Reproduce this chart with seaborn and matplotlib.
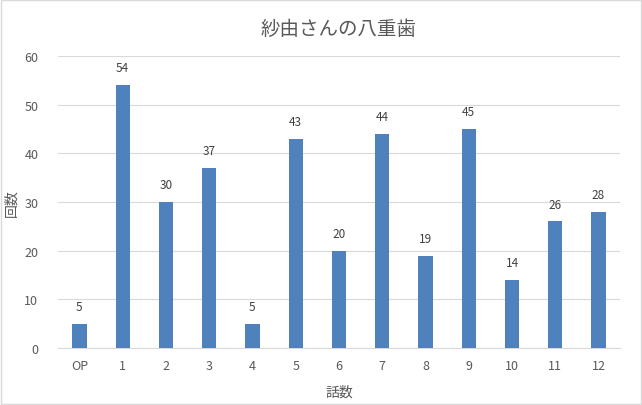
import matplotlib
matplotlib.use("Agg")
import matplotlib.pyplot as plt
import seaborn as sns
import pandas as pd

# --- data ---
episodes = ['OP', '1', '2', '3', '4', '5', '6', '7', '8', '9', '10', '11', '12']
counts = [5, 54, 30, 37, 5, 43, 20, 44, 19, 45, 14, 26, 28]
y_ticks = [0, 10, 20, 30, 40, 50, 60]

TITLE = '紗由さんの八重歯'
X_LABEL = '話数'
Y_LABEL = '回数'

BAR_COLOR = '#4F81BD'
TEXT_COLOR = '#595959'
GRID_COLOR = '#D9D9D9'

sns.set_theme(style="white")
plt.rcParams['font.family'] = ['Noto Sans CJK JP', 'DejaVu Sans']

df = pd.DataFrame({'episode': episodes, 'count': counts})

fig = plt.figure(figsize=(6.42, 4.06), dpi=100)
ax = fig.add_axes([0.090, 0.140, 0.876, 0.720])

sns.barplot(data=df, x='episode', y='count', color=BAR_COLOR, width=0.33,
            saturation=1, linewidth=0, ax=ax, zorder=3)

# value labels above bars
for i, v in enumerate(counts):
    ax.text(i, v + 2.2, str(v), ha='center', va='bottom', fontsize=8.5, color='#404040')

ax.set_ylim(0, 60)
ax.set_yticks(y_ticks)
ax.set_xlim(-0.5, len(episodes) - 0.5)
ax.yaxis.grid(True, color=GRID_COLOR, linewidth=0.8, zorder=0)
ax.set_axisbelow(True)

for side in ['top', 'right', 'left']:
    ax.spines[side].set_visible(False)
ax.spines['bottom'].set_color(GRID_COLOR)
ax.spines['bottom'].set_linewidth(0.8)

ax.tick_params(axis='both', length=0, labelsize=9, colors=TEXT_COLOR, pad=8)
ax.tick_params(axis='y', pad=14)

ax.set_xlabel(X_LABEL, fontsize=10, color=TEXT_COLOR, labelpad=9)
ax.set_ylabel(Y_LABEL, fontsize=10, color=TEXT_COLOR, labelpad=4)
ax.set_title(TITLE, fontsize=14, color=TEXT_COLOR, pad=16)

# chart area border
fig.patches.append(plt.Rectangle((0.002, 0.003), 0.996, 0.994, transform=fig.transFigure,
                                 fill=False, edgecolor='#D9D9D9', linewidth=1))

fig.savefig('out.png', dpi=100)
